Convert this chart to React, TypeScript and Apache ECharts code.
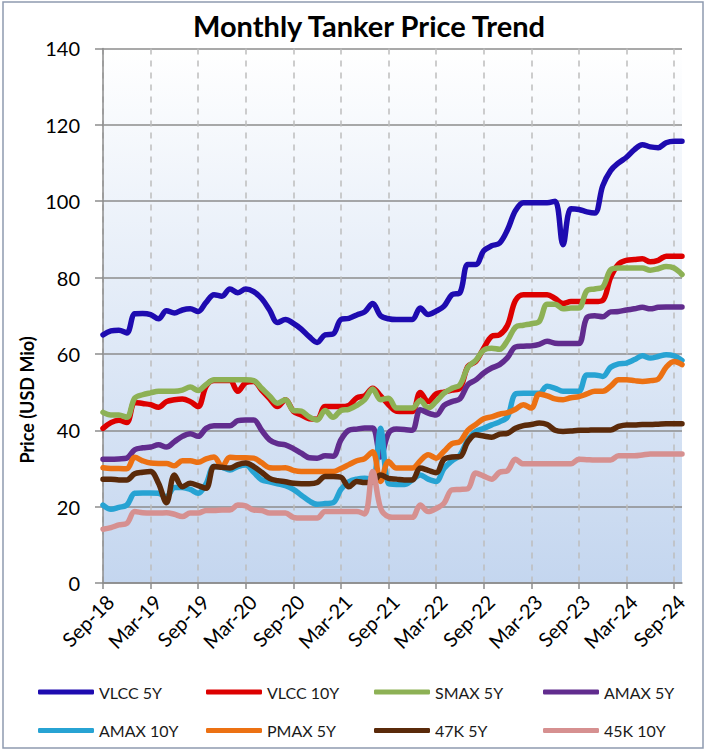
import React, { useEffect, useRef } from "react";
import * as echarts from "echarts";

const MONTHS = ["Jan", "Feb", "Mar", "Apr", "May", "Jun", "Jul", "Aug", "Sep", "Oct", "Nov", "Dec"];
// Sep-18 .. Oct-24 (74 months)
const categories: string[] = [];
for (let k = 0; k < 74; k++) {
  const m = (8 + k) % 12;
  const y = 18 + Math.floor((8 + k) / 12);
  categories.push(`${MONTHS[m]}-${y}`);
}

const seriesNames = ["VLCC 5Y", "VLCC 10Y", "SMAX 5Y", "AMAX 5Y", "AMAX 10Y", "PMAX 5Y", "47K 5Y", "45K 10Y"];
const seriesColors = ["#1E0BB0", "#DD0000", "#8DB155", "#612C8E", "#27A3D3", "#EC7113", "#5A2A0A", "#D69090"];

const vlcc5y = [
  65, 66, 66.2, 65.5, 70.5, 70.6, 70.3, 69.2, 71.3, 70.7,
  71.5, 71.8, 71.1, 73.5, 75.5, 75.1, 77, 76, 77, 76.3,
  74.5, 71.5, 68.2, 69, 68, 66.5, 64.5, 63, 65, 65.2,
  69, 69.3, 70.2, 71, 73.2, 70, 69.2, 69, 69, 69,
  72, 70.3, 71.2, 72.5, 75.5, 76, 83.4, 83.4, 87, 88.3,
  89, 92.5, 97.5, 99.6, 99.6, 99.6, 99.6, 100, 88.6, 98,
  97.8, 97.2, 96.9, 104, 108, 110, 111.5, 113.5, 114.8, 114.2,
  114, 115.3, 115.7, 115.7,
];
const vlcc10y = [
  40.5, 42, 42.6, 42, 47.3, 47, 46.7, 46, 47.5, 48,
  48.2, 47.5, 46.2, 51.5, 53, 53, 53, 50.2, 52.5, 52.8,
  50.5, 48.3, 46.2, 48, 45, 44, 43, 42.9, 46.2, 46.2,
  46.2, 46.5, 48.5, 49, 51, 49, 46.7, 45, 44.9, 44.9,
  49.9, 47.5, 49.5, 50, 50.5, 51, 56.7, 58, 61.5, 64.6,
  65, 67.5, 74, 75.5, 75.5, 75.5, 75.5, 74.5, 73.2, 73.7,
  73.7, 73.7, 73.7, 74, 80, 83.5, 84.5, 84.7, 84.9, 84.1,
  84.5, 85.6, 85.6, 85.6,
];
const smax5y = [
  44.7, 44, 44, 43.4, 48.4, 49.3, 49.8, 50.2, 50.2, 50.2,
  50.5, 51.3, 50.4, 52, 53.2, 53.2, 53.2, 53.2, 53.2, 53,
  51, 49, 47.1, 48, 45.2, 45, 43.5, 42.7, 45.2, 43.4,
  45.2, 45.5, 46.5, 48, 50.8, 48, 48.4, 45.8, 45.8, 45.8,
  47.8, 45.8, 47.5, 49.7, 51, 51.9, 56.5, 58.3, 61, 61.5,
  61.2, 63.5, 67, 67.5, 67.9, 68.5, 73, 73, 71.8, 72,
  72, 76.5, 77, 77.5, 82, 82.5, 82.5, 82.5, 82.5, 81.9,
  82.3, 82.9, 82.5, 80.8,
];
const amax5y = [
  32.4, 32.4, 32.5, 32.7, 34.9, 35.4, 35.6, 36.2, 35.6, 37,
  38.4, 39.1, 38.4, 40.5, 41.2, 41.2, 41.2, 42.5, 42.7, 42.7,
  40, 37.5, 36.5, 36.2, 35.2, 34, 32.8, 32.7, 33.3, 33.2,
  37.5, 40, 40.3, 40.6, 40.6, 33, 39.2, 40.3, 40.2, 40,
  45.4, 44.5, 44, 46.5, 47.5, 48.2, 51.9, 53.2, 55, 56.3,
  57.2, 59, 61.8, 62, 62.1, 62.5, 63.3, 62.8, 62.7, 62.7,
  62.7, 69.5, 70, 69.7, 71, 71.1, 71.5, 71.8, 72.2, 71.8,
  72.2, 72.3, 72.3, 72.3,
];
const amax10y = [
  20.4, 19.3, 19.8, 20.4, 23.5, 23.6, 23.6, 23.5, 22.6, 25,
  25, 24.5, 23.5, 26, 30.5, 30.3, 29.6, 30.5, 30.9, 29,
  27, 26.5, 26, 25.5, 24.5, 23, 21.5, 20.6, 20.8, 21,
  24.5, 26.5, 27.2, 27.4, 27, 40.5, 26, 25.8, 25.8, 27,
  28.3, 27.2, 26.6, 30, 32, 33.5, 37.5, 39.7, 40.5, 41.4,
  42.2, 43.5, 49.5, 49.7, 49.7, 49.7, 51.5, 51, 50.2, 50.2,
  50.2, 54.5, 54.5, 54.1, 56.5, 57.4, 57.6, 58.5, 59.5, 58.9,
  59.3, 59.8, 59.5, 58.3,
];
const pmax5y = [
  30.2, 30, 30, 29.9, 32.9, 32, 31.4, 31.3, 31.3, 30.7,
  32, 32, 31.6, 32.5, 33, 30.5, 32.9, 32.8, 32.8, 32.7,
  31.5, 30.2, 30.1, 30.2, 29.5, 29.2, 29.2, 29.2, 29.2, 29.2,
  30, 31, 32, 32.6, 34.4, 26.6, 31.8, 30.1, 30.1, 30.1,
  32, 33.6, 32.7, 34.5, 36.5, 37, 40, 41.5, 43, 43.5,
  44.2, 44.6, 45.5, 46.7, 45.8, 49.5, 49, 48.2, 48, 48.5,
  48.8, 49.5, 50.2, 50.2, 51.5, 53.2, 53.2, 53, 52.8, 53,
  53.4, 56.5, 58, 57.2,
];
const k47_5y = [
  27.2, 27.2, 27, 27, 28.6, 29, 29.2, 26.1, 21, 28.3,
  25.2, 26.1, 25.5, 24.8, 30.5, 30.3, 30.1, 31, 31.4, 30.5,
  29, 27.4, 26.8, 26.5, 26.1, 26, 26, 26.3, 27.9, 27.9,
  27.7, 25.2, 26.6, 26.3, 26.5, 28.3, 27.4, 27.2, 27, 27,
  30.1, 29.5, 28.9, 32.4, 33, 33.1, 37, 38.8, 38.5, 38.2,
  39, 39.2, 40.5, 41.2, 41.5, 41.9, 41.5, 40, 39.7, 39.8,
  40, 40, 40.1, 40.1, 40.1, 41, 41.4, 41.4, 41.5, 41.5,
  41.6, 41.7, 41.7, 41.7,
];
const k45_10y = [
  14.1, 14.5, 15.2, 15.6, 18.7, 18.4, 18.3, 18.3, 18.4, 18,
  17.4, 18.3, 18.3, 19, 19, 19.1, 19.1, 20.4, 20.2, 19.1,
  19, 18.3, 18.3, 18.3, 17.2, 17, 17, 17, 18.7, 18.7,
  18.7, 18.7, 18.7, 18.1, 29.2, 19.6, 17.4, 17.2, 17.2, 17.2,
  20.4, 18.7, 19.5, 20.9, 24.4, 24.5, 24.7, 28.8, 28, 27.2,
  29, 29.4, 32.4, 31.2, 31.2, 31.2, 31.2, 31.2, 31.2, 31.2,
  32.4, 32.3, 32.2, 32.2, 32.2, 33.3, 33.3, 33.3, 33.5, 33.8,
  33.8, 33.8, 33.8, 33.8,
];

const seriesData = [vlcc5y, vlcc10y, smax5y, amax5y, amax10y, pmax5y, k47_5y, k45_10y];

const yTicks = { min: 0, max: 140, interval: 20 };

const FONT = "Lato, 'Open Sans', sans-serif";

export default function App() {
  const ref = useRef<HTMLDivElement>(null);
  useEffect(() => {
    if (!ref.current) return;
    const chart = echarts.init(ref.current, undefined, { renderer: "svg" });
    const legendCols = [
      [0, 4],
      [1, 5],
      [2, 6],
      [3, 7],
    ];
    const legendLefts = [38, 206, 374, 543];
    chart.setOption({
      animation: false,
      backgroundColor: "#ffffff",
      title: {
        text: "Monthly Tanker Price Trend",
        left: 364,
        top: 6,
        textAlign: "center",
        textStyle: { fontFamily: FONT, fontWeight: "bold", fontSize: 29, color: "#000" },
      },
      graphic: [
        {
          type: "rect",
          shape: { x: 3, y: 2, width: 700, height: 746 },
          style: { fill: "none", stroke: "#8E9BB0", lineWidth: 1.5 },
          silent: true,
          z: -10,
        },
        {
          type: "text",
          x: 27,
          y: 400,
          rotation: Math.PI / 2,
          style: {
            text: "Price (USD Mio)",
            textAlign: "center",
            textVerticalAlign: "middle",
            fontFamily: FONT,
            fontWeight: "bold",
            fontSize: 18,
            fill: "#000",
          },
        },
      ],
      legend: legendCols.map((col, ci) => ({
        orient: "vertical",
        left: legendLefts[ci],
        top: 682,
        itemWidth: 56,
        itemHeight: 5,
        itemGap: 18.4,
        icon: "roundRect",
        data: col.map((i) => seriesNames[i]),
        textStyle: { fontFamily: FONT, fontSize: 16, color: "#1a1a1a", lineHeight: 20 },
        padding: 0,
      })),
      grid: {
        left: 103,
        right: 24,
        top: 48.4,
        bottom: 168,
        show: true,
        borderWidth: 0,
        backgroundColor: new echarts.graphic.LinearGradient(0, 0, 0, 1, [
          { offset: 0, color: "#FFFFFF" },
          { offset: 1, color: "#C4D6EF" },
        ]),
      },
      xAxis: {
        type: "category",
        data: categories,
        boundaryGap: false,
        axisLine: { lineStyle: { color: "#8C8C8C", width: 1.5 } },
        axisTick: { show: true, interval: 5, length: 6, lineStyle: { color: "#8C8C8C", width: 1.5 } },
        axisLabel: {
          interval: 5,
          rotate: 45,
          margin: 8,
          verticalAlign: "top",
          fontFamily: FONT,
          fontSize: 20,
          color: "#000",
        },
        splitLine: {
          show: true,
          interval: 5,
          lineStyle: { color: "#BDBDBD", width: 1.5, type: [6, 6] },
        },
      },
      yAxis: {
        type: "value",
        min: yTicks.min,
        max: yTicks.max,
        interval: yTicks.interval,
        axisLine: { show: true, lineStyle: { color: "#8C8C8C", width: 1.5 } },
        axisTick: { show: true, length: 8, lineStyle: { color: "#8C8C8C", width: 1.5 } },
        axisLabel: { margin: 23, fontFamily: FONT, fontSize: 20, color: "#000" },
        splitLine: { show: true, lineStyle: { color: "#8C8C8C", width: 1.5 } },
      },
      series: seriesNames.map((name, i) => ({
        name,
        type: "line",
        data: seriesData[i],
        smooth: 0.35,
        symbol: "none",
        showSymbol: false,
        color: seriesColors[i],
        itemStyle: { color: seriesColors[i] },
        lineStyle: { color: seriesColors[i], width: 5.5, cap: "round", join: "round" },
      })),
    });
    return () => chart.dispose();
  }, []);
  return (
    <div
      ref={ref}
      style={{ position: "fixed", left: 0, top: 0, width: 706, height: 751 }}
    />
  );
}
